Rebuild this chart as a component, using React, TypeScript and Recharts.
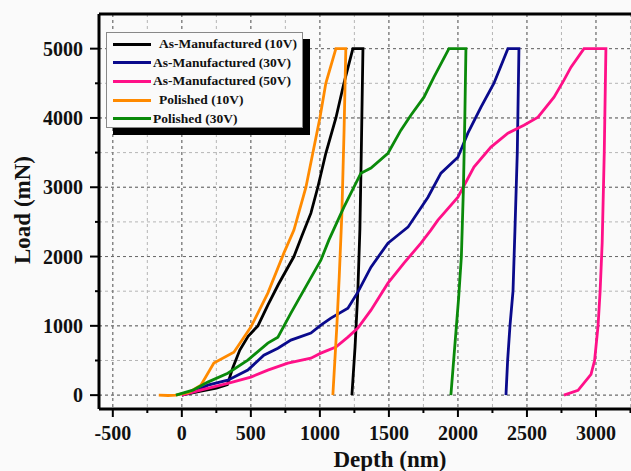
import React from 'react';
import { LineChart, Line, XAxis, YAxis, CartesianGrid, ReferenceLine } from 'recharts';

type Pt = { x: number; y: number };

// depth (nm) / load (mN), loading -> hold -> unloading
const am10: Pt[] = [
  { x: 0, y: 0 }, { x: 120, y: 50 }, { x: 250, y: 100 }, { x: 330, y: 150 }, { x: 370, y: 400 },
  { x: 420, y: 650 }, { x: 480, y: 850 }, { x: 551, y: 1000 }, { x: 623, y: 1300 }, { x: 700, y: 1600 },
  { x: 812, y: 2000 }, { x: 870, y: 2300 }, { x: 935, y: 2626 }, { x: 985, y: 3000 }, { x: 1043, y: 3490 },
  { x: 1116, y: 4000 }, { x: 1174, y: 4500 }, { x: 1239, y: 5000 }, { x: 1312, y: 5000 },
  { x: 1300, y: 3500 }, { x: 1290, y: 2400 }, { x: 1275, y: 1500 }, { x: 1255, y: 700 }, { x: 1232, y: 0 },
];
const am30: Pt[] = [
  { x: 0, y: 0 }, { x: 100, y: 60 }, { x: 188, y: 144 }, { x: 333, y: 216 }, { x: 478, y: 361 },
  { x: 594, y: 577 }, { x: 696, y: 678 }, { x: 790, y: 794 }, { x: 935, y: 895 }, { x: 1007, y: 1010 },
  { x: 1080, y: 1111 }, { x: 1203, y: 1255 }, { x: 1275, y: 1486 }, { x: 1370, y: 1847 }, { x: 1493, y: 2193 },
  { x: 1560, y: 2300 }, { x: 1638, y: 2424 }, { x: 1783, y: 2857 }, { x: 1877, y: 3203 }, { x: 2000, y: 3434 },
  { x: 2072, y: 3781 }, { x: 2167, y: 4156 }, { x: 2261, y: 4502 }, { x: 2362, y: 5000 }, { x: 2442, y: 5000 },
  { x: 2430, y: 3500 }, { x: 2413, y: 2380 }, { x: 2399, y: 1500 }, { x: 2377, y: 1000 }, { x: 2360, y: 500 },
  { x: 2348, y: 0 },
];
const am50: Pt[] = [
  { x: 0, y: 0 }, { x: 150, y: 80 }, { x: 333, y: 170 }, { x: 500, y: 260 }, { x: 623, y: 361 },
  { x: 768, y: 462 }, { x: 935, y: 534 }, { x: 1007, y: 606 }, { x: 1116, y: 693 }, { x: 1203, y: 837 },
  { x: 1275, y: 967 }, { x: 1370, y: 1226 }, { x: 1493, y: 1616 }, { x: 1609, y: 1905 }, { x: 1732, y: 2193 },
  { x: 1804, y: 2381 }, { x: 1855, y: 2525 }, { x: 2000, y: 2857 }, { x: 2116, y: 3290 }, { x: 2239, y: 3579 },
  { x: 2362, y: 3781 }, { x: 2478, y: 3896 }, { x: 2580, y: 4012 }, { x: 2696, y: 4300 }, { x: 2768, y: 4545 },
  { x: 2819, y: 4733 }, { x: 2913, y: 5000 }, { x: 3072, y: 5000 },
  { x: 3060, y: 3500 }, { x: 3045, y: 2200 }, { x: 3030, y: 1500 }, { x: 3015, y: 1000 }, { x: 2990, y: 500 },
  { x: 2964, y: 300 }, { x: 2870, y: 70 }, { x: 2768, y: 0 },
];
const pol10: Pt[] = [
  { x: -167, y: 0 }, { x: -100, y: -5 }, { x: -43, y: 0 }, { x: 50, y: 40 }, { x: 138, y: 144 },
  { x: 232, y: 462 }, { x: 377, y: 620 }, { x: 500, y: 981 }, { x: 623, y: 1472 }, { x: 739, y: 2049 },
  { x: 812, y: 2381 }, { x: 899, y: 3000 }, { x: 1000, y: 4000 }, { x: 1043, y: 4500 }, { x: 1116, y: 5000 },
  { x: 1188, y: 5000 }, { x: 1175, y: 3800 }, { x: 1159, y: 2600 }, { x: 1140, y: 1700 }, { x: 1123, y: 1000 },
  { x: 1094, y: 0 },
];
const pol30: Pt[] = [
  { x: -43, y: 0 }, { x: 80, y: 72 }, { x: 188, y: 188 }, { x: 333, y: 317 }, { x: 478, y: 505 },
  { x: 623, y: 750 }, { x: 696, y: 837 }, { x: 790, y: 1183 }, { x: 884, y: 1515 }, { x: 1007, y: 1948 },
  { x: 1065, y: 2237 }, { x: 1174, y: 2713 }, { x: 1297, y: 3203 }, { x: 1370, y: 3276 }, { x: 1493, y: 3490 },
  { x: 1587, y: 3824 }, { x: 1659, y: 4040 }, { x: 1754, y: 4300 }, { x: 1826, y: 4589 }, { x: 1935, y: 5000 },
  { x: 2058, y: 5000 }, { x: 2050, y: 4000 }, { x: 2040, y: 3000 }, { x: 2025, y: 2000 }, { x: 2005, y: 1400 },
  { x: 1985, y: 900 }, { x: 1965, y: 400 }, { x: 1949, y: 0 },
];

const series = [
  { name: 'As-Manufactured (10V)', data: am10, color: '#000000', pad: 8 },
  { name: 'As-Manufactured (30V)', data: am30, color: '#0a0a8c', pad: 2 },
  { name: 'As-Manufactured (50V)', data: am50, color: '#ff1088', pad: 2 },
  { name: 'Polished (10V)', data: pol10, color: '#ff8a00', pad: 8 },
  { name: 'Polished (30V)', data: pol30, color: '#0a8a0a', pad: 2 },
];

const xTicks = [-500, -250, 0, 250, 500, 750, 1000, 1250, 1500, 1750, 2000, 2250, 2500, 2750, 3000, 3250];
const xMajor = [-500, 0, 500, 1000, 1500, 2000, 2500, 3000];
const yTicks = [0, 500, 1000, 1500, 2000, 2500, 3000, 3500, 4000, 4500, 5000];
const yMajor = [0, 1000, 2000, 3000, 4000, 5000];

const FONT = '"Liberation Serif", "Times New Roman", serif';

const XTick = (props: any) => {
  const { x, y, payload } = props;
  const major = xMajor.includes(payload.value);
  return (
    <g>
      <line x1={x} x2={x} y1={y} y2={y + (major ? 8 : 4)} stroke="#000" strokeWidth={2} />
      {major && (
        <text x={x} y={y + 31} textAnchor="middle" fontFamily={FONT} fontWeight="bold" fontSize={20} fill="#111">
          {payload.value}
        </text>
      )}
    </g>
  );
};

const YTick = (props: any) => {
  const { x, y, payload } = props;
  const major = yMajor.includes(payload.value);
  return (
    <g>
      <line x1={x - (major ? 9 : 4)} x2={x} y1={y} y2={y} stroke="#000" strokeWidth={2} />
      {major && (
        <text x={x - 16} y={y + 7} textAnchor="end" fontFamily={FONT} fontWeight="bold" fontSize={20} fill="#111">
          {payload.value}
        </text>
      )}
    </g>
  );
};

const App: React.FC = () => {
  return (
    <div style={{ position: 'fixed', left: 0, top: 0, width: 631, height: 471, overflow: 'hidden', background: '#fafafa' }}>
      <LineChart width={720} height={471} margin={{ top: 14, right: 55, bottom: 0, left: 0 }}>
        <CartesianGrid stroke="#b5b5b5" strokeDasharray="3 3" verticalValues={xTicks} horizontalValues={yTicks} />
        <CartesianGrid stroke="#6a6a6a" strokeDasharray="3 3" verticalValues={xMajor} horizontalValues={yMajor} />
        <XAxis
          type="number"
          dataKey="x"
          domain={[-600, 3500]}
          allowDataOverflow
          ticks={xTicks}
          interval={0}
          tick={XTick}
          tickLine={false}
          tickSize={0}
          tickMargin={0}
          height={62}
          axisLine={{ stroke: '#000', strokeWidth: 3 }}
        />
        <YAxis
          type="number"
          dataKey="y"
          domain={[-200, 5500]}
          allowDataOverflow
          ticks={yTicks}
          interval={0}
          tick={YTick}
          tickLine={false}
          tickSize={0}
          tickMargin={0}
          width={99}
          axisLine={{ stroke: '#000', strokeWidth: 3 }}
        />
        <ReferenceLine y={5500} stroke="#000" strokeWidth={3} />
        {series.map((s) => (
          <Line
            key={s.name}
            data={s.data}
            dataKey="y"
            name={s.name}
            type="linear"
            stroke={s.color}
            strokeWidth={2.8}
            dot={false}
            isAnimationActive={false}
          />
        ))}
      </LineChart>

      {/* legend box with black drop shadow */}
      <div style={{ position: 'absolute', left: 113, top: 39, width: 197, height: 96, background: '#000' }} />
      <div
        style={{
          position: 'absolute', left: 106, top: 32, width: 195, height: 94,
          background: '#fafafa', border: '1px solid #888', fontFamily: FONT, fontWeight: 'bold', fontSize: 13.5,
        }}
      >
        {series.map((s, i) => (
          <div key={s.name} style={{ position: 'absolute', left: 6, top: 2 + i * 18.7, height: 18, display: 'flex', alignItems: 'center' }}>
            <div style={{ width: 38, height: 3, background: s.color }} />
            <span style={{ marginLeft: s.pad, color: '#111', whiteSpace: 'nowrap' }}>{s.name}</span>
          </div>
        ))}
      </div>

      <div style={{ position: 'absolute', left: 390, top: 460, transform: 'translate(-50%, -50%)', fontFamily: FONT, fontWeight: 'bold', fontSize: 23, color: '#111', whiteSpace: 'nowrap' }}>
        Depth (nm)
      </div>
      <div style={{ position: 'absolute', left: 23, top: 210, transform: 'translate(-50%, -50%) rotate(-90deg)', fontFamily: FONT, fontWeight: 'bold', fontSize: 23, color: '#111', whiteSpace: 'nowrap' }}>
        Load (mN)
      </div>
    </div>
  );
};

export default App;
